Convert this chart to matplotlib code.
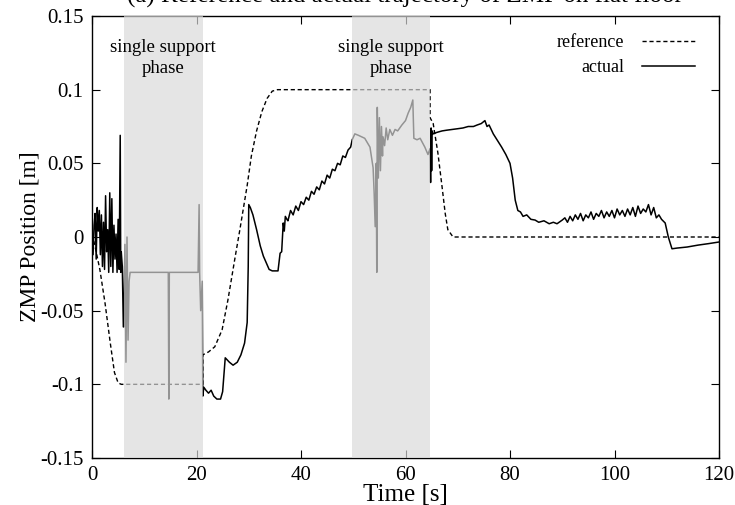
import matplotlib
matplotlib.use("Agg")
import matplotlib.pyplot as plt

plt.rcParams['font.family'] = ['Liberation Serif', 'DejaVu Serif']
plt.rcParams['axes.unicode_minus'] = False

title = "(a) Reference and actual trajectory of ZMP on flat floor"
xlabel = "Time [s]"
ylabel = "ZMP Position [m]"
band_label = "single support\nphase"
legend_labels = ["reference", "actual"]

x_ticks = [0, 20, 40, 60, 80, 100, 120]
y_ticks = [-0.15, -0.1, -0.05, 0, 0.05, 0.1, 0.15]
y_tick_labels = ["-0.15", "-0.1", "-0.05", "0", "0.05", "0.1", "0.15"]

support_phases = [(6.1, 21.2), (49.8, 64.7)]

ref_t = [0, 0.5, 1.5, 2.5, 3.5, 4.3, 5.0, 5.6, 21.2, 21.2, 22.3, 23.5, 24.9, 26.0,
         27.4, 28.3, 29.7, 30.5, 31.5, 32.5, 33.5, 34.5, 35.5, 64.7, 64.7, 65.3,
         66.2, 67.0, 67.6, 68.1, 69.1, 120]
ref_y = [0.002, -0.005, -0.022, -0.045, -0.072, -0.092, -0.099, -0.1, -0.1, -0.080,
         -0.078, -0.0745, -0.063, -0.043, -0.0135, 0.005, 0.035, 0.055, 0.072, 0.085,
         0.094, 0.099, 0.1, 0.1, 0.081, 0.077, 0.057, 0.034, 0.016, 0.005, 0.0, 0.0]

act_t = [0.0, 0.2, 0.4, 0.6, 0.8, 1.0, 1.2, 1.4, 1.6, 1.8, 2.0, 2.2, 2.4, 2.6, 2.8,
         3.0, 3.2, 3.4, 3.6, 3.8, 4.0, 4.2, 4.4, 4.6, 4.8, 5.0, 5.2, 5.4, 5.5, 5.6,
         5.8, 6.0,
         6.1, 6.3, 6.5, 6.7, 6.9, 7.1, 7.3, 14.6, 14.7, 14.8, 20.3, 20.5, 20.6, 20.8,
         21.1, 21.2,
         21.4, 21.8, 22.3, 22.8, 23.3, 23.9, 24.6, 25.0, 25.5, 26.3, 27.0, 27.8, 28.5,
         29.2, 29.7, 29.9, 30.0, 30.3, 30.8, 31.5, 32.2, 32.8, 33.4, 33.9, 34.5, 35.6,
         36.0, 36.3, 36.6, 36.8, 37.0, 37.3,
         37.5, 38.0, 38.5, 39.0, 39.5, 40.0, 40.5, 41.0, 41.5, 42.0, 42.5, 43.0, 43.5,
         44.0, 44.5, 45.0, 45.5, 46.0, 46.5, 47.0, 47.5, 48.0, 48.5, 49.0, 49.5,
         49.8, 50.3, 51.0, 52.2, 53.2, 53.8, 54.0, 54.2, 54.4, 54.5, 54.6, 54.8, 55.0,
         55.2, 55.4, 55.6, 55.7, 56.0, 56.3, 56.6, 57.0, 57.5, 58.0, 58.5, 59.3, 60.0,
         60.5, 61.0, 61.4, 61.6, 62.2, 62.8, 63.7, 64.3, 64.7, 64.8, 64.9, 65.0, 65.1,
         65.3, 66.0, 67.0, 67.9, 69.0, 70.0, 71.0, 72.0, 73.0, 73.7, 74.5, 75.2, 75.6,
         76.0, 76.8, 77.5, 78.4, 79.2, 80.0, 80.5, 81.0, 81.5, 82.0, 82.5, 83.2, 84.0,
         84.8, 85.5, 86.5, 87.5, 88.3, 89.0,
         90.0, 90.5, 91.0, 91.5, 92.0, 92.5, 93.0, 93.5, 94.0, 94.5, 95.0, 95.5, 96.0,
         96.5, 97.0, 97.5, 98.0, 98.5, 99.0, 99.5, 100.0, 100.5, 101.0, 101.5, 102.0,
         102.5, 103.0, 103.5, 104.0, 104.5, 105.0, 105.5, 106.0, 106.5, 107.0, 107.5,
         108.0, 108.5, 109.0, 109.7, 110.3, 111.0, 112.0, 113.9, 116.0, 118.0, 120.0]
act_y = [0.003, -0.012, 0.008, 0.016, -0.015, 0.02, 0.004, 0.018, -0.012, 0.015,
         -0.02, 0.01, -0.022, 0.028, -0.01, 0.005, -0.024, 0.03, -0.02, 0.026, -0.024,
         0.008, -0.015, 0.002, -0.024, 0.012, -0.022, 0.069, -0.024, -0.01, -0.02,
         -0.061,
         -0.061, -0.005, -0.085, 0.0, -0.07, -0.03, -0.024, -0.024, -0.110, -0.024,
         -0.024, 0.022, -0.024, -0.05, -0.03, -0.108,
         -0.102, -0.104, -0.106, -0.104, -0.108, -0.110, -0.110, -0.105, -0.082,
         -0.085, -0.087, -0.085, -0.080, -0.072, -0.058, -0.02, 0.022, 0.020, 0.015,
         0.005, -0.006, -0.013, -0.018, -0.022, -0.023, -0.023, -0.011, -0.010, 0.0095,
         0.004, 0.014, 0.012,
         0.011, 0.018, 0.015, 0.021, 0.018, 0.024, 0.022, 0.027, 0.025, 0.031, 0.029,
         0.034, 0.032, 0.038, 0.036, 0.042, 0.040, 0.046, 0.045, 0.050, 0.049, 0.055,
         0.054, 0.059, 0.061,
         0.066, 0.070, 0.069, 0.067, 0.061, 0.047, 0.03, 0.007, 0.05, -0.024, 0.088,
         0.04, 0.081, 0.045, 0.075, 0.055, 0.068, 0.062, 0.074, 0.066, 0.073, 0.069,
         0.073, 0.072, 0.076, 0.079, 0.084, 0.088, 0.093, 0.067, 0.066, 0.067, 0.061,
         0.056, 0.060, 0.037, 0.074, 0.045, 0.072,
         0.070, 0.071, 0.072, 0.0725, 0.073, 0.0735, 0.074, 0.075, 0.075, 0.076, 0.077,
         0.079, 0.075, 0.076, 0.070, 0.066, 0.061, 0.056, 0.050, 0.040, 0.025, 0.018,
         0.017, 0.014, 0.015, 0.012, 0.0115, 0.010, 0.011, 0.009, 0.010, 0.009,
         0.0115, 0.013, 0.010, 0.014, 0.011, 0.015, 0.012, 0.016, 0.011, 0.015, 0.013,
         0.017, 0.012, 0.016, 0.014, 0.018, 0.013, 0.017, 0.014, 0.018, 0.013, 0.019,
         0.015, 0.018, 0.014, 0.019, 0.015, 0.020, 0.014, 0.021, 0.016, 0.019, 0.017,
         0.022, 0.015, 0.020, 0.013, 0.015, 0.012, 0.0095, 0.0, -0.008, -0.0075,
         -0.0068, -0.0055, -0.0045, -0.0034]

fig = plt.figure(figsize=(7.35, 5.05), dpi=100)
ax = fig.add_axes([92 / 735, 1 - 458 / 505, 627 / 735, 442 / 505])

ax.plot(ref_t, ref_y, color='black', lw=1.0, ls=(0, (3, 2)), zorder=2,
        label=legend_labels[0])
ax.plot(act_t, act_y, color='black', lw=1.1, zorder=2, label=legend_labels[1])

for (a, b) in support_phases:
    ax.axvspan(a, b, color='#dadada', alpha=0.68, lw=0, zorder=3)
    ax.text((a + b) / 2, 0.1345, band_label, ha='center', va='top', fontsize=13.5,
            linespacing=1.3, zorder=4)

ax.set_xlim(0, 120)
ax.set_ylim(-0.15, 0.15)
ax.set_xticks(x_ticks)
ax.set_yticks(y_ticks)
ax.set_yticklabels(y_tick_labels)
ax.tick_params(direction='in', top=True, right=True, length=6, width=0.8,
               labelsize=15, pad=6)
for s in ax.spines.values():
    s.set_linewidth(1.0)

ax.set_xlabel(xlabel, fontsize=18, labelpad=-1)
ax.set_ylabel(ylabel, fontsize=17, labelpad=0)

leg = ax.legend(loc='upper right', frameon=False, markerfirst=False, fontsize=13,
                handlelength=2.9, handletextpad=1.0, borderaxespad=0.0,
                labelspacing=0.45, bbox_to_anchor=(0.973, 0.975))
leg.set_zorder(5)

fig.text(405 / 735, 1 - 3 / 505, title, ha='center', va='baseline', fontsize=18)

fig.savefig("out.png", dpi=100)
